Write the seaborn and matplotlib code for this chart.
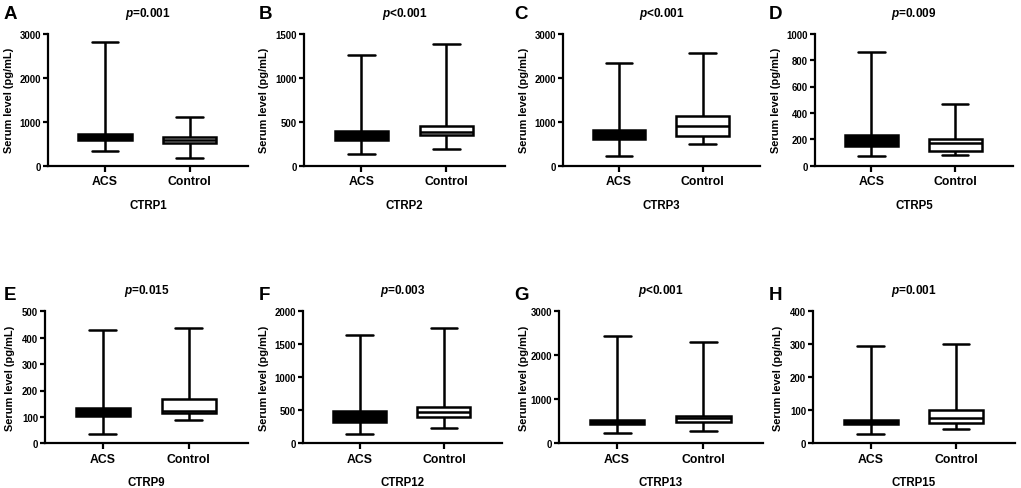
import matplotlib
matplotlib.use("Agg")
import matplotlib.pyplot as plt
import seaborn as sns
import pandas as pd

sns.set_style("ticks", rc={"axes.edgecolor": "black", "text.color": "black",
                           "axes.labelcolor": "black", "xtick.color": "black",
                           "ytick.color": "black"})
plt.rcParams['font.family'] = ['Liberation Sans', 'DejaVu Sans']
plt.rcParams['font.weight'] = 'bold'
plt.rcParams['mathtext.fontset'] = 'custom'
plt.rcParams['mathtext.it'] = 'Liberation Sans:italic:bold'
plt.rcParams['mathtext.rm'] = 'Liberation Sans:bold'
plt.rcParams['mathtext.bf'] = 'Liberation Sans:bold'

# ---- data (min, Q1, median, Q3, max) ----
markers = ["CTRP1", "CTRP2", "CTRP3", "CTRP5", "CTRP9", "CTRP12", "CTRP13", "CTRP15"]
letters = ["A", "B", "C", "D", "E", "F", "G", "H"]
pvalues = ["=0.001", "<0.001", "<0.001", "=0.009", "=0.015", "=0.003", "<0.001", "=0.001"]
groups = ["ACS", "Control"]

acs_min = [326, 129, 230, 73, 37, 147, 238, 29]
acs_q1 = [591, 295, 616, 149, 103, 326, 446, 58]
acs_med = [650, 350, 710, 190, 118, 420, 490, 65]
acs_q3 = [720, 398, 815, 230, 132, 484, 531, 71]
acs_max = [2818, 1261, 2326, 859, 430, 1638, 2440, 296]

ctl_min = [167, 189, 500, 78, 90, 234, 270, 42]
ctl_q1 = [515, 345, 677, 109, 113, 392, 492, 62]
ctl_med = [583, 386, 908, 174, 122, 470, 577, 76]
ctl_q3 = [659, 447, 1125, 205, 168, 551, 630, 101]
ctl_max = [1106, 1386, 2568, 467, 435, 1745, 2311, 300]

y_top = [3000, 1500, 3000, 1000, 500, 2000, 3000, 400]
y_step = [1000, 500, 1000, 200, 100, 500, 1000, 100]

# ---- layout (figure pixels) ----
W, H = 1021, 489
ax_px = [(48, 248), (304, 505), (563, 760), (815, 1013),
         (45, 248), (303, 502), (559, 763), (813, 1015)]
row_px = [(34.7, 166.7), (312.3, 444.3)]
ylabel_right = [14, 269, 529, 781, 15, 269, 529, 783]
letter_x = [4, 259, 514, 769]
letter_y = [6, 287]

fig = plt.figure(figsize=(W / 100, H / 100), dpi=100)

for i in range(8):
    r = i // 4
    x0, x1 = ax_px[i]
    yt, yb = row_px[r]
    ax = fig.add_axes([x0 / W, 1 - yb / H, (x1 - x0) / W, (yb - yt) / H])
    vals = ([acs_min[i], acs_q1[i], acs_med[i], acs_q3[i], acs_max[i]] +
            [ctl_min[i], ctl_q1[i], ctl_med[i], ctl_q3[i], ctl_max[i]])
    df = pd.DataFrame({"group": ["ACS"] * 5 + ["Control"] * 5, "value": vals})
    sns.boxplot(data=df, x="group", y="value", hue="group", order=groups,
                hue_order=groups, palette={"ACS": "black", "Control": "white"},
                linecolor="black", linewidth=1.8, width=0.63, whis=(0, 100),
                showfliers=False, legend=False, ax=ax,
                medianprops=dict(color="black", linewidth=1.8))
    ax.set_xlim(-0.674, 1.69)
    ax.set_ylim(0, y_top[i])
    ax.set_yticks(list(range(0, y_top[i] + 1, y_step[i])))
    for s in ["top", "right"]:
        ax.spines[s].set_visible(False)
    for s in ["left", "bottom"]:
        ax.spines[s].set_linewidth(1.6)
    ax.tick_params(axis="y", length=3.5, width=1.6, pad=1.5, labelsize=6.9)
    ax.tick_params(axis="x", length=4.5, width=1.6, pad=2.5, labelsize=8.8)
    for lab in ax.get_xticklabels() + ax.get_yticklabels():
        lab.set_fontweight("bold")
    ax.set_xlabel(markers[i], fontsize=8.3, fontweight="bold", labelpad=8)
    ax.set_ylabel("Serum level (pg/mL)", fontsize=7.9, fontweight="bold")
    ax.yaxis.set_label_coords((ylabel_right[i] - x0) / (x1 - x0), 0.5)
    ax.text(0.5, 1 + 21 / 132, r"$\mathit{p}$" + pvalues[i], transform=ax.transAxes,
            ha="center", va="center", fontsize=8.5, fontweight="bold")
    fig.text(letter_x[i % 4] / W, 1 - letter_y[r] / H, letters[i], fontsize=13.5,
             fontweight="bold", ha="left", va="top")

fig.savefig("out.png", dpi=100)
